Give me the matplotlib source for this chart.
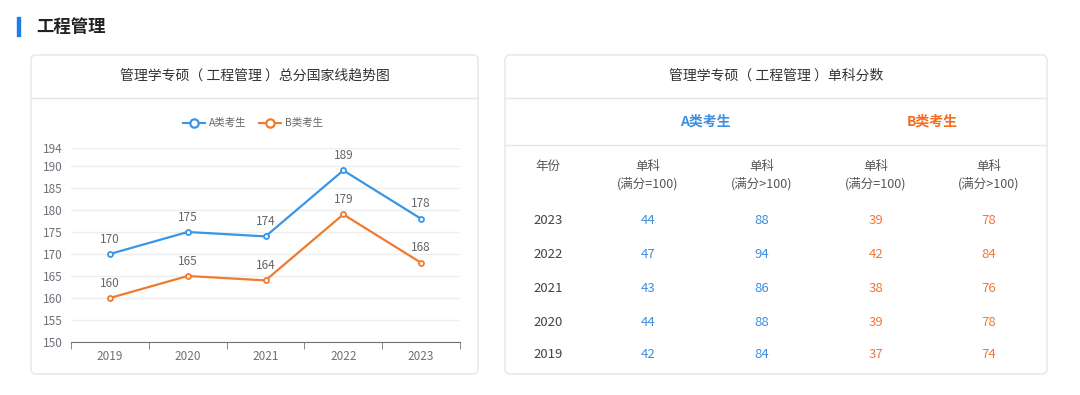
import matplotlib.pyplot as plt
from matplotlib.patches import FancyBboxPatch, Rectangle
from matplotlib.lines import Line2D

plt.rcParams['font.family'] = ['Noto Sans CJK SC', 'DejaVu Sans']

# data
years = ['2019', '2020', '2021', '2022', '2023']
score_a = [170, 175, 174, 189, 178]
score_b = [160, 165, 164, 179, 168]
y_ticks = [150, 155, 160, 165, 170, 175, 180, 185, 190, 194]

table_years = ['2023', '2022', '2021', '2020', '2019']
a_eq100 = [44, 47, 43, 44, 42]
a_gt100 = [88, 94, 86, 88, 84]
b_eq100 = [39, 42, 38, 39, 37]
b_gt100 = [78, 84, 76, 78, 74]
col_heads = ['单科\n(满分=100)', '单科\n(满分>100)', '单科\n(满分=100)', '单科\n(满分>100)']

BLUE = '#3a95e6'
ORANGE = '#ee7b2f'
BLUE_TXT = '#3d8fe0'
ORANGE_TXT = '#f2763a'
GRAY = '#666666'
BORDER = '#e4e6ea'

W, H = 1080, 395
fig = plt.figure(figsize=(W / 100, H / 100), dpi=100)
bg = fig.add_axes([0, 0, 1, 1])
bg.set_xlim(0, W)
bg.set_ylim(H, 0)
bg.axis('off')

# section title
bg.add_patch(Rectangle((17, 17), 3, 19, color='#1a7fe8'))
bg.text(36, 27, '工程管理', fontsize=12.5, fontweight='bold', color='#222222', va='center')


def card(x0, y0, x1, y1, title):
    bg.add_patch(FancyBboxPatch((x0, y0), x1 - x0, y1 - y0,
                                boxstyle='round,pad=0,rounding_size=5',
                                fc='white', ec=BORDER, lw=1))
    bg.plot([x0, x1], [98, 98], color=BORDER, lw=1)
    bg.text((x0 + x1) / 2, 76, title, fontsize=10, color='#333333',
            ha='center', va='center')


card(31, 55, 478, 374, '管理学专硕（ 工程管理 ）总分国家线趋势图')
card(505, 55, 1047, 374, '管理学专硕（ 工程管理 ）单科分数')

# legend
for lx, col, lab in [(183, BLUE, 'A类考生'), (259, ORANGE, 'B类考生')]:
    bg.add_line(Line2D([lx, lx + 22], [123, 123], color=col, lw=1.5))
    bg.add_line(Line2D([lx + 11], [123], color=col, marker='o', ms=6,
                       mfc='white', mew=1.6))
    bg.text(lx + 26, 123, lab, fontsize=7.5, color=GRAY, va='center')

# line chart
ax = fig.add_axes([71 / W, 1 - 342 / H, (460 - 71) / W, (342 - 148.4) / H])
x = range(len(years))
for vals, col in [(score_a, BLUE), (score_b, ORANGE)]:
    ax.plot(x, vals, color=col, lw=1.6, marker='o', ms=3.6, mfc='white', mew=1.3, zorder=3)
    for xi, v in zip(x, vals):
        ax.annotate(str(v), (xi, v), xytext=(0, 6), textcoords='offset points',
                    ha='center', va='bottom', fontsize=8.5, color=GRAY)
ax.set_xlim(-0.5, len(years) - 0.5)
ax.set_ylim(150, 194)
ax.set_yticks(y_ticks)
ax.set_yticklabels([str(t) for t in y_ticks], fontsize=8.5, color='#6e7079')
ax.set_xticks(list(x))
ax.set_xticklabels(years, fontsize=8.5, color='#6e7079')
ax.set_xticks([i - 0.5 for i in range(len(years) + 1)], minor=True)
ax.tick_params(axis='x', which='major', length=0, pad=6)
ax.tick_params(axis='x', which='minor', length=5, color='#6e7079')
ax.tick_params(axis='y', length=0, pad=6)
ax.grid(axis='y', color='#eeeeee', lw=1)
ax.set_axisbelow(True)
for s in ['top', 'right', 'left']:
    ax.spines[s].set_visible(False)
ax.spines['bottom'].set_color('#6e7079')
ax.patch.set_alpha(0)

# table
bg.plot([505, 1047], [145, 145], color=BORDER, lw=1)
bg.text(705, 122, 'A类考生', fontsize=10, fontweight='bold', color=BLUE_TXT,
        ha='center', va='center')
bg.text(932, 122, 'B类考生', fontsize=10, fontweight='bold', color='#f56b1f',
        ha='center', va='center')

col_x = [548, 648, 762, 876, 989]
bg.text(col_x[0], 166, '年份', fontsize=9, color='#555555', ha='center', va='center')
for cx, head in zip(col_x[1:], col_heads):
    bg.text(cx, 175, head, fontsize=9, color='#555555', ha='center', va='center',
            linespacing=1.4)

row_y = [221, 255, 289, 322, 355]
cols = [(a_eq100, BLUE_TXT), (a_gt100, BLUE_TXT), (b_eq100, ORANGE_TXT), (b_gt100, ORANGE_TXT)]
for i, (yr, ry) in enumerate(zip(table_years, row_y)):
    bg.text(col_x[0], ry, yr, fontsize=9.5, color='#444444', ha='center', va='center')
    for cx, (vals, c) in zip(col_x[1:], cols):
        bg.text(cx, ry, str(vals[i]), fontsize=9.5, color=c, ha='center', va='center')

fig.savefig('out.png', dpi=100)
